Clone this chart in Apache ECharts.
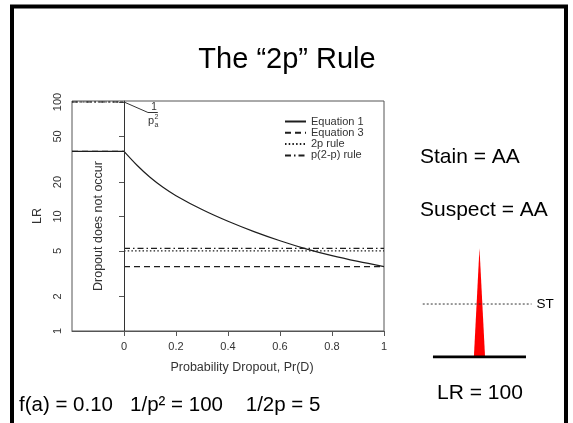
<!DOCTYPE html>
<html><head><meta charset="utf-8">
<script src="https://cdn.jsdelivr.net/npm/echarts@6/dist/echarts.min.js"></script>
<style>html,body{margin:0;padding:0;background:#fff}#c{width:573px;height:423px}</style>
</head><body><div id="c"></div>
<script>
// ---- data ----
const seriesNames = ['Equation 1', 'Equation 3', '2p rule', 'p(2-p) rule'];
const xTicks = [0, 0.2, 0.4, 0.6, 0.8, 1];
const yTicks = [1, 2, 5, 10, 20, 50, 100];
const xNoDropout = [-0.2, 0];
const xDropout = [0, 1];
const xCurve = [0, 0.05, 0.1, 0.15, 0.2, 0.3, 0.4, 0.5, 0.6, 0.7, 0.8, 0.9, 1.0];
const eq1Curve = [37, 28, 22, 18, 15.2, 11.5, 9.08, 7.38, 6.14, 5.22, 4.55, 4.05, 3.65];
const eq1NoDropout = [37, 37];
const eq3NoDropout = [37, 37];
const eq3Dropout = [3.65, 3.65];
const rule2pNoDropout = [100, 100];
const rule2pDropout = [5.0, 5.0];
const ruleP2pNoDropout = [100, 100];
const ruleP2pDropout = [5.26, 5.26];
const annotAnchor = [0, 100];
const annotBar = [[0.092, 81], [0.13, 81]];
// peak illustration (relative units)
const peakX = [0.44, 0.5, 0.56];
const peakY = [0, 1, 0];
const baselineX = [0, 1];
const stThreshold = 0.486;
const stX = [-0.11, 1.06];

const zip = (xs, ys) => xs.map((x, i) => [x, ys[i]]);
const twoPart = (xl, yl, xr, yr) => zip(xl, yl).concat([[0, '-']], zip(xr, yr));

const INK = '#1e1e1e';
const FONT = 'Liberation Sans, Arial, Helvetica, sans-serif';
const chart = echarts.init(document.getElementById('c'));

const lineSeries = (name, data, type, extra) => Object.assign({
  name, type: 'line', data, symbol: 'none', xAxisIndex: 0, yAxisIndex: 0,
  animation: false, silent: true,
  itemStyle: { color: INK },
  lineStyle: { color: INK, width: 1.2, type }
}, extra || {});

chart.setOption({
  animation: false,
  textStyle: { fontFamily: FONT },
  grid: [
    { left: 72, top: 101, width: 312, height: 230, show: true, borderColor: '#555', borderWidth: 1, backgroundColor: 'transparent' },
    { left: 421.8, top: 248, width: 110.7, height: 109 }
  ],
  legend: {
    data: seriesNames, orient: 'vertical', left: 279, top: 111,
    itemWidth: 21, itemHeight: 8, itemGap: 0.3, itemTextGap: 7,
    itemStyle: { color: 'rgba(0,0,0,0)', borderColor: 'rgba(0,0,0,0)', borderWidth: 0, opacity: 0 },
    textStyle: { fontSize: 11, color: '#333', lineHeight: 8.3, fontFamily: FONT },
    selectedMode: false
  },
  xAxis: [
    {
      type: 'value', gridIndex: 0, min: -0.2, max: 1,
      axisLine: { show: true, lineStyle: { color: '#555' } },
      axisTick: { show: true, customValues: xTicks, length: 5, lineStyle: { color: '#555' } },
      axisLabel: { customValues: xTicks, margin: 10, fontSize: 11, color: '#333' },
      splitLine: { show: false },
      name: 'Probability Dropout, Pr(D)', nameLocation: 'middle', nameGap: 30,
      nameTextStyle: { fontSize: 12.5, color: '#333', padding: [0, 0, 0, 28] }
    },
    { type: 'value', gridIndex: 1, min: -0.12, max: 1.07, show: false }
  ],
  yAxis: [
    {
      type: 'log', logBase: 10, gridIndex: 0, min: 1, max: 102,
      axisLine: { show: true, lineStyle: { color: '#555' } },
      axisTick: { show: true, customValues: yTicks, length: 5, lineStyle: { color: '#555' } },
      axisLabel: { customValues: yTicks, rotate: 90, margin: 9, fontSize: 11, color: '#333' },
      splitLine: { show: false }, minorTick: { show: false },
      name: 'LR', nameLocation: 'middle', nameGap: 27, nameRotate: 90,
      nameTextStyle: { fontSize: 12.5, color: '#333' }
    },
    { type: 'value', gridIndex: 1, min: 0, max: 1, show: false }
  ],
  series: [
    lineSeries('Equation 1', zip(xNoDropout, eq1NoDropout), 'solid', {
      markLine: {
        symbol: 'none', silent: true, animation: false,
        label: { show: false },
        lineStyle: { color: '#333', type: 'solid', width: 1 },
        data: [
          { xAxis: 0 },
          [{ coord: annotAnchor }, { coord: annotBar[0] }],
          [{ coord: annotBar[0] }, { coord: annotBar[1] }]
        ]
      }
    }),
    lineSeries('Equation 1', zip(xCurve, eq1Curve), 'solid', { smooth: 0.3 }),
    lineSeries('Equation 3', twoPart(xNoDropout, eq3NoDropout, xDropout, eq3Dropout), [6, 4]),
    lineSeries('2p rule', twoPart(xNoDropout, rule2pNoDropout, xDropout, rule2pDropout), [1.5, 2.2]),
    lineSeries('p(2-p) rule', twoPart(xNoDropout, ruleP2pNoDropout, xDropout, ruleP2pDropout), [6, 3, 1.5, 3]),
    {
      type: 'line', xAxisIndex: 1, yAxisIndex: 1, data: zip(peakX, peakY), symbol: 'none', silent: true,
      lineStyle: { width: 0 }, areaStyle: { color: '#ff0000', opacity: 1 }, itemStyle: { color: '#ff0000' }
    },
    {
      type: 'line', xAxisIndex: 1, yAxisIndex: 1, data: zip(baselineX, [0, 0]), symbol: 'none', silent: true,
      lineStyle: { width: 3, color: '#000' }, itemStyle: { color: '#000' }
    },
    {
      type: 'line', xAxisIndex: 1, yAxisIndex: 1, data: zip(stX, [stThreshold, stThreshold]), symbol: 'none', silent: true,
      lineStyle: { width: 1, color: '#333', type: [2, 2] }, itemStyle: { color: '#333' },
      endLabel: { show: true, formatter: 'ST', fontSize: 13.5, color: '#000', distance: 5, fontFamily: FONT }
    }
  ],
  graphic: [
    { type: 'rect', shape: { x: 12, y: 6.5, width: 554, height: 440 }, style: { fill: 'none', stroke: '#000', lineWidth: 4 }, silent: true },
    { type: 'text', x: 287, y: 60, style: { text: 'The \u201c2p\u201d Rule', font: '29px ' + FONT, fill: '#000', textAlign: 'center', textVerticalAlign: 'middle' } },
    { type: 'text', x: 99, y: 226, rotation: Math.PI / 2, style: { text: 'Dropout does not occur', font: '12.5px ' + FONT, fill: '#333', textAlign: 'center', textVerticalAlign: 'middle' } },
    { type: 'text', x: 154, y: 107, style: { text: '1', font: '10px ' + FONT, fill: '#333', textAlign: 'center', textVerticalAlign: 'middle' } },
    { type: 'text', x: 151, y: 121, style: { text: 'p', font: '11px ' + FONT, fill: '#333', textAlign: 'center', textVerticalAlign: 'middle' } },
    { type: 'text', x: 156.5, y: 117, style: { text: '2', font: '7px ' + FONT, fill: '#333', textAlign: 'center', textVerticalAlign: 'middle' } },
    { type: 'text', x: 156.5, y: 125, style: { text: 'a', font: '7px ' + FONT, fill: '#333', textAlign: 'center', textVerticalAlign: 'middle' } },
    { type: 'text', x: 420, y: 157, style: { text: 'Stain = AA', font: '21px ' + FONT, fill: '#000', textVerticalAlign: 'middle' } },
    { type: 'text', x: 420, y: 210, style: { text: 'Suspect = AA', font: '21px ' + FONT, fill: '#000', textVerticalAlign: 'middle' } },
    { type: 'text', x: 437, y: 393, style: { text: 'LR = 100', font: '21px ' + FONT, fill: '#000', textVerticalAlign: 'middle' } },
    { type: 'text', x: 19, y: 405, style: { text: 'f(a) = 0.10   1/p\u00b2 = 100    1/2p = 5', font: '20.5px ' + FONT, fill: '#000', textVerticalAlign: 'middle' } }
  ]
});
</script></body></html>
